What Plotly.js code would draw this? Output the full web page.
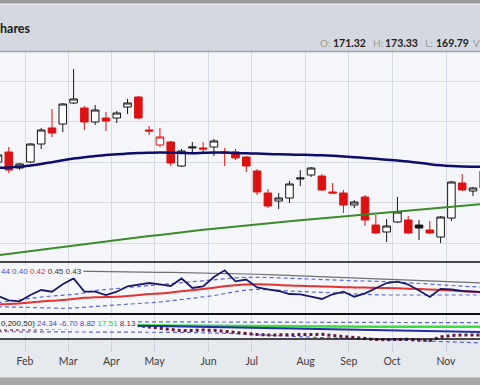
<!DOCTYPE html>
<html><head><meta charset="utf-8">
<script src="https://cdn.plot.ly/plotly-3.0.1.min.js"></script>
<style>html,body{margin:0;padding:0;background:#e6e9ee;}#chart{width:480px;height:385px;}</style>
</head><body><div id="chart"></div>
<script>
// weekly bar index (0 = first, partly hidden bar at the left edge)
const weeks = [0,1,2,3,4,5,6,7,8,9,10,11,12,13,14,15,16,17,18,19,20,21,22,23,24,25,26,27,28,29,30,31,32,33,34,35,36,37,38,39,40,41,42,43,44,45];
const open  = [175.00,177.47,173.52,175.00,179.44,183.40,184.38,189.57,188.33,184.88,185.86,185.86,188.58,191.05,182.90,179.20,179.94,174.01,178.46,178.46,178.70,177.47,177.47,176.23,172.78,167.35,165.37,166.11,170.80,171.79,171.54,167.59,167.35,164.38,166.36,159.44,157.72,160.19,160.68,159.44,158.21,156.48,161.17,169.81,167.84,168.58];
const high  = [177.22,178.70,174.75,179.69,183.40,188.09,189.57,197.96,188.83,189.07,187.35,187.59,190.56,191.30,183.89,183.40,180.19,178.21,179.94,179.94,180.68,178.46,178.21,176.48,173.27,168.33,167.35,170.31,173.02,173.77,172.04,169.81,168.09,165.62,166.85,161.91,160.93,166.36,161.67,160.68,160.43,161.67,170.31,172.04,168.83,173.33];
const low   = [174.51,172.28,173.02,174.75,178.21,181.17,182.41,189.32,182.90,184.14,182.65,184.63,186.85,185.62,181.67,178.70,174.01,173.77,177.47,177.22,176.48,174.01,175.49,172.53,166.85,163.64,163.40,164.88,169.07,171.30,167.84,167.10,162.41,163.64,159.20,157.22,155.25,159.94,157.22,155.74,157.22,155.00,160.43,167.84,166.60,167.90];
const close = [176.73,173.02,174.51,179.44,182.90,182.16,189.32,190.56,184.88,187.84,185.12,187.10,189.57,185.86,182.65,181.17,174.75,177.72,178.70,178.21,180.19,177.22,175.99,174.01,167.59,164.14,166.11,169.57,171.05,173.52,168.09,167.35,164.38,165.12,160.68,157.47,159.20,162.65,157.47,158.70,157.47,161.42,170.06,168.09,168.58,172.78];
// price overlays
const maLong  = [173.57,173.64,173.81,174.14,174.51,174.95,175.42,175.84,176.19,176.46,176.70,176.90,177.07,177.20,177.27,177.32,177.30,177.22,177.17,177.27,177.37,177.32,177.22,177.15,177.07,176.98,176.90,176.83,176.78,176.73,176.65,176.53,176.38,176.19,175.99,175.80,175.58,175.36,175.12,174.80,174.46,174.19,174.01,173.89,173.84,173.81];
const maGreen = [151.96,152.31,152.65,153.02,153.37,153.72,154.06,154.41,154.75,155.10,155.49,155.77,156.09,156.41,156.73,157.00,157.35,157.67,157.94,158.26,158.51,158.80,159.05,159.32,159.57,159.84,160.11,160.38,160.63,160.83,161.10,161.35,161.57,161.81,162.06,162.31,162.56,162.80,163.02,163.27,163.52,163.74,163.99,164.21,164.41,164.63];
// indicator panel 1
const ind1     = [0.3692,0.3527,0.3488,0.3731,0.3923,0.3858,0.4142,0.4365,0.3858,0.3858,0.3731,0.3858,0.4065,0.4135,0.4192,0.4142,0.4077,0.4365,0.4000,0.4065,0.4423,0.4681,0.4258,0.4327,0.4019,0.3950,0.3885,0.3769,0.3758,0.3665,0.3577,0.3758,0.3858,0.3665,0.3796,0.3988,0.4192,0.4242,0.4135,0.3904,0.3654,0.3969,0.3942,0.3885,0.3858,0.3846];
const ind1Avg  = [0.3369,0.3385,0.3408,0.3442,0.3481,0.3508,0.3538,0.3577,0.3627,0.3642,0.3654,0.3665,0.3692,0.3731,0.3769,0.3788,0.3827,0.3873,0.3915,0.3962,0.4012,0.4069,0.4108,0.4135,0.4142,0.4135,0.4115,0.4096,0.4085,0.4069,0.4058,0.4046,0.4031,0.4023,0.4015,0.4008,0.4000,0.3988,0.3973,0.3962,0.3946,0.3923,0.3900,0.3877,0.3854,0.3831];
const ind1Up   = [0.3442,0.3500,0.3558,0.3615,0.3654,0.3692,0.3712,0.3750,0.3808,0.3904,0.3942,0.3981,0.4027,0.4065,0.4104,0.4142,0.4185,0.4219,0.4250,0.4288,0.4327,0.4365,0.4392,0.4412,0.4415,0.4404,0.4392,0.4373,0.4354,0.4335,0.4315,0.4300,0.4288,0.4277,0.4269,0.4262,0.4250,0.4231,0.4204,0.4173,0.4142,0.4115,0.4092,0.4069,0.4050,0.4031];
const ind1Lo   = [0.3281,0.3269,0.3250,0.3231,0.3223,0.3219,0.3219,0.3231,0.3258,0.3285,0.3308,0.3335,0.3362,0.3385,0.3423,0.3462,0.3508,0.3558,0.3596,0.3646,0.3708,0.3788,0.3854,0.3923,0.3950,0.3942,0.3912,0.3885,0.3865,0.3854,0.3838,0.3815,0.3788,0.3762,0.3746,0.3738,0.3731,0.3731,0.3731,0.3731,0.3731,0.3731,0.3731,0.3731,0.3731,0.3731];
const ind1Long = [0.4673,0.4665,0.4662,0.4658,0.4655,0.4652,0.4650,0.4648,0.4646,0.4640,0.4635,0.4630,0.4625,0.4618,0.4611,0.4604,0.4598,0.4592,0.4587,0.4582,0.4576,0.4569,0.4556,0.4542,0.4528,0.4515,0.4500,0.4485,0.4470,0.4454,0.4438,0.4421,0.4404,0.4385,0.4366,0.4346,0.4327,0.4312,0.4297,0.4281,0.4266,0.4250,0.4236,0.4221,0.4206,0.4192];
// indicator panel 2
const ind2Green = [13.5,13.3,13.1,13.0,12.9,12.8,12.7,12.6,12.6,12.5,12.5,12.5,12.5,12.5,12.3,12.0,11.7,11.4,11.1,10.8,10.5,10.2,10.0,9.8,9.6,9.4,9.2,9.0,8.9,8.8,8.7,8.6,8.5,8.4,8.4,8.3,8.3,8.3,8.3,8.3,8.3,8.3,8.3,8.3,8.3,8.3];
const ind2Navy  = [13.0,12.9,12.8,12.7,12.6,12.5,12.4,12.2,12.0,11.9,11.7,11.6,11.4,11.25,10.6,9.9,9.25,8.7,8.1,7.6,7.0,6.5,6.0,5.5,5.0,4.6,4.2,3.8,3.4,3.0,2.5,2.0,1.5,1.0,0.5,0.0,-0.5,-1.0,-1.5,-2.0,-2.5,-3.0,-3.5,-4.0,-4.5,-5.0];
const ind2Hist  = [1.5,1.5,2,2.5,3,4,5,6,7,8,9,9.5,10,10.75,7.5,4.25,0,-1.75,-1.25,0,-0.75,-3.75,-6.25,-8.25,-11.25,-12.5,-12.5,-12.5,-12.5,-11.25,-10.75,-13.75,-16.25,-17.5,-21.25,-23.75,-24.25,-23.75,-23.25,-25,-26.25,-17.5,-13.75,-12.5,-12.5,-12.5];
const ind2Up    = [21.5,21.4,21.3,21.2,21.1,21.0,20.9,20.8,20.7,20.6,20.5,20.4,20.3,20.2,20.1,20.0,19.9,19.8,19.7,19.6,19.5,19.4,19.3,19.2,19.1,19.0,18.9,18.8,18.7,18.6,18.5,18.5,18.4,18.4,18.3,18.3,18.3,18.3,18.3,18.2,18.2,18.2,18.2,18.2,18.2,18.2];
const ind2Lo    = [-4.25,-4.25,-4.25,-4.25,-4.25,-4.25,-4.25,-4.25,-4.25,-4.25,-4.25,-4.25,-4.25,-4.25,-4.7,-5.1,-5.5,-5.9,-6.3,-6.7,-7.1,-7.5,-9.0,-10.5,-12.0,-13.5,-15,-16,-17,-18,-19,-20,-21,-22,-23,-24,-25,-26,-27,-28,-29,-30,-30.6,-31.2,-31.9,-32.5];
// axis labels
const monthTickPos = [2.5,6.5,10.5,14.5,19.5,23.5,28.5,32.5,36.5,41.5];
const monthLabels  = ['Feb','Mar','Apr','May','Jun','Jul','Aug','Sep','Oct','Nov'];

const BLACK='#151515', RED='#dc1212', PLOTBG='#f5f6f9', PAPER='#e6e9ee';
function part(arr, up){ return arr.map((v,i)=>{ const isUp = i===0 || close[i]>=close[i-1]; return (isUp===up)?v:null; }); }
function candles(up, col){
  return {type:'candlestick', x:weeks, open:part(open,up), high:part(high,up), low:part(low,up), close:part(close,up),
    xaxis:'x', yaxis:'y', whiskerwidth:0, hoverinfo:'skip', showlegend:false,
    increasing:{line:{color:col,width:1}, fillcolor:'#ffffff'},
    decreasing:{line:{color:col,width:1}, fillcolor:col}};
}
function line(y, ya, color, width, dash, shape){
  return {type:'scatter', mode:'lines', x:weeks, y:y, xaxis:'x', yaxis:ya, hoverinfo:'skip', showlegend:false,
    line:{color:color, width:width, dash:dash||'solid', shape:shape||'linear'}};
}
const traces = [
  candles(true, BLACK), candles(false, RED),
  line(maGreen,'y','#3b8a2b',2),
  line(maLong,'y','#0d0d6b',2.5,'solid','spline'),
  line(ind1Up,'y2','#5b66d8',1.2,'4px,3px'),
  line(ind1Lo,'y2','#5b66d8',1.2,'4px,3px'),
  line(ind1Long,'y2','#707070',1.2),
  line(ind1Avg,'y2','#e23232',2,'solid','spline'),
  line(ind1,'y2','#1a1a6a',1.8),
  line(ind2Up,'y3','#5b66d8',1.2,'4px,3px'),
  line(ind2Lo,'y3','#5b66d8',1.2,'4px,3px'),
  line(ind2Hist,'y3','#6a1a3a',3,'dot'),
  line(ind2Green,'y3','#3ddc3d',2.5),
  line(ind2Navy,'y3','#2030a8',2)
];
const fy = Y => (344 - Y) / 292;
const F = 'Liberation Sans, Arial, sans-serif';
const L = 'Lato, Liberation Sans, sans-serif';
function ann(text, xpx, ypx, font, extra){
  return Object.assign({xref:'paper', yref:'paper', x:xpx/480, y:fy(ypx), xanchor:'left', yanchor:'middle',
    showarrow:false, text:text, font:font, borderpad:0}, extra||{});
}
const layout = {
  width:480, height:385, margin:{l:0,r:0,t:52,b:41,pad:0},
  paper_bgcolor:PAPER, plot_bgcolor:PLOTBG, showlegend:false,
  boxgap:0.3, boxgroupgap:0, hovermode:false,
  xaxis:{domain:[0,1], anchor:'y3', range:[0.184,44.649], tickmode:'array', tickvals:monthTickPos, ticktext:monthLabels,
    ticks:'outside', ticklen:7, tickcolor:'#c8ccd4', tickwidth:1, showgrid:true, gridcolor:'#d7dae2', gridwidth:1,
    zeroline:false, showline:false, tickfont:{family:L, size:10.5, color:'#3c3c3c'}, rangeslider:{visible:false}},
  yaxis:{domain:[fy(262),1], anchor:'x', range:[150.31,202.16], tick0:5, dtick:10, showticklabels:false, ticks:'',
    showgrid:true, gridcolor:'#d7dae2', zeroline:false},
  yaxis2:{domain:[fy(314),fy(262)], anchor:'x', range:[0.30,0.50], showgrid:false, showticklabels:false, zeroline:false, ticks:''},
  yaxis3:{domain:[0,fy(314)], anchor:'x', range:[-35,40], showgrid:false, showticklabels:false, zeroline:false, ticks:''},
  shapes:[
    {type:'rect', xref:'paper', yref:'paper', x0:0, x1:1, y0:fy(51.5), y1:fy(4.5), fillcolor:'#d4d8e0', line:{width:0}, layer:'below'},
    {type:'rect', xref:'paper', yref:'paper', x0:0, x1:1, y0:fy(4.5), y1:fy(3.5), fillcolor:'#f2f2f2', line:{width:0}, layer:'below'},
    {type:'rect', xref:'paper', yref:'paper', x0:0, x1:1, y0:fy(3.5), y1:fy(0), fillcolor:'#9b9b9b', line:{width:0}, layer:'below'},
    {type:'line', xref:'paper', yref:'paper', x0:0, x1:1, y0:fy(51.5), y1:fy(51.5), line:{color:'#9ea3ab', width:1.5}},
    {type:'rect', xref:'paper', yref:'paper', x0:0, x1:1, y0:0, y1:fy(339), fillcolor:PAPER, line:{width:0}, layer:'below'},
    {type:'rect', xref:'paper', yref:'paper', x0:0, x1:1, y0:fy(385), y1:fy(377.5), fillcolor:'#a7a7a7', line:{width:0}, layer:'below'},
    {type:'line', xref:'paper', yref:'paper', x0:0, x1:1, y0:fy(262), y1:fy(262), line:{color:'#111', width:1.5}},
    {type:'line', xref:'paper', yref:'paper', x0:0, x1:1, y0:fy(314), y1:fy(314), line:{color:'#111', width:2}},
    {type:'line', xref:'paper', yref:'paper', x0:0, x1:1, y0:fy(339), y1:fy(339), line:{color:'#111', width:1.5}}
  ],
  annotations:[
    ann('<b>hares</b>', -1, 28.5, {family:L, size:12.5, color:'#1b1b1b'}),
    ann('O:', 319, 43.5, {family:L, size:10, color:'#9a9a9a'}),
    ann('<b>171.32</b>', 332, 43.5, {family:L, size:10.5, color:'#222'}),
    ann('H:', 372, 43.5, {family:L, size:10, color:'#9a9a9a'}),
    ann('<b>173.33</b>', 384, 43.5, {family:L, size:10.5, color:'#222'}),
    ann('L:', 424, 43.5, {family:L, size:10, color:'#9a9a9a'}),
    ann('<b>169.79</b>', 435, 43.5, {family:L, size:10.5, color:'#222'}),
    ann('V', 472, 43.5, {family:L, size:10, color:'#9a9a9a'}),
    ann('<span style="color:#4d4dc4">44 0.40</span> <span style="color:#e23030">0.42</span> <span style="color:#333">0.45 0.43</span>',
        -1, 271, {family:F, size:8, color:'#333'}, {bgcolor:PLOTBG, borderpad:1}),
    ann('<span style="color:#222">0,200,50)</span> <span style="color:#4d4dc4">24.34 -6.70 8.82</span> <span style="color:#2acc2a">17.51</span> <span style="color:#8a2040">8.13</span>',
        -1, 323.5, {family:F, size:8, color:'#333'}, {bgcolor:PLOTBG, borderpad:1})
  ]
};
Plotly.newPlot('chart', traces, layout, {staticPlot:true, displayModeBar:false});
</script></body></html>
